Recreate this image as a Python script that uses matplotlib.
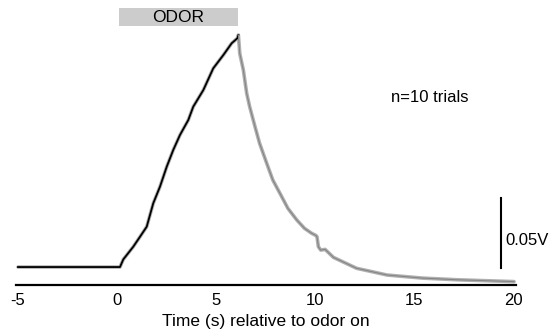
import numpy as np
import matplotlib
matplotlib.use("Agg")
import matplotlib.pyplot as plt
from matplotlib.patches import Rectangle

plt.rcParams['font.family'] = ['Liberation Sans', 'DejaVu Sans']

# mean trace (time in s relative to odor onset, signal in V)
t_rise = [-5.0, -3.0, -1.0, 0.15, 0.32, 0.82, 1.16, 1.50, 1.83, 2.17, 2.51,
          2.84, 3.18, 3.60, 3.85, 4.36, 4.86, 5.37, 5.79, 6.08, 6.13]
v_rise = [0.0, 0.0, 0.0, 0.0, 0.0055, 0.0145, 0.0216, 0.0288, 0.0455, 0.0574,
          0.0716, 0.0836, 0.0943, 0.105, 0.1145, 0.1264, 0.1419, 0.1514, 0.1598,
          0.1634, 0.1657]
t_decay = [6.13, 6.2, 6.38, 6.55, 6.7, 6.97, 7.2, 7.56, 7.87, 8.23, 8.63, 9.08,
           9.47, 9.83, 10.05, 10.1, 10.17, 10.29, 10.51, 10.93, 12.1, 13.64,
           15.43, 17.2, 20.05]
v_decay = [0.1657, 0.1525, 0.1407, 0.124, 0.1145, 0.1002, 0.0884, 0.0741, 0.0621,
           0.0526, 0.0419, 0.0336, 0.0276, 0.0241, 0.0225, 0.0216, 0.0145, 0.0121,
           0.0126, 0.0069, -0.0009, -0.0057, -0.0079, -0.0091, -0.0104]

odor_on, odor_off = 0.12, 6.1
xticks = [-5, 0, 5, 10, 15, 20]
scale_v = 0.05
n_trials = 10

fig = plt.figure(figsize=(5.51, 3.33), dpi=100)
ax = fig.add_axes([0.0287, 0.144, 0.9078, 0.856])

# trials envelope (gray) with mean on top
t_all = t_rise + t_decay[1:]
v_all = v_rise + v_decay[1:]
ax.plot(t_all, v_all, color='#b0b0b0', lw=2.6, solid_joinstyle='round',
        solid_capstyle='round', zorder=2)
ax.plot(t_rise, v_rise, color='black', lw=1.3, zorder=3)
ax.plot(t_decay, v_decay, color='#858585', lw=0.8, zorder=3)

ax.set_xlim(-5.11, 20.15)
ax.set_ylim(-0.01286, 0.1907)

# odor bar
ax.add_patch(Rectangle((odor_on, 0.1721), odor_off - odor_on, 0.0127,
                       facecolor='#cccccc', edgecolor='none', zorder=1))
ax.text((odor_on + odor_off) / 2, 0.1785, 'ODOR', ha='center', va='center',
        fontsize=12.5)

# scale bar
ax.plot([19.41, 19.41], [-0.0007, -0.0007 + scale_v], color='black', lw=1.5)
ax.text(19.6, 0.0193, '%.2fV' % scale_v, ha='left', va='center', fontsize=12)

ax.text(13.85, 0.121, 'n=%d trials' % n_trials, ha='left', va='center',
        fontsize=12)

for s in ['top', 'right', 'left']:
    ax.spines[s].set_visible(False)
ax.spines['bottom'].set_linewidth(1.6)
ax.set_yticks([])
ax.set_xticks(xticks)
ax.set_xticklabels([str(x) for x in xticks])
ax.tick_params(axis='x', length=0, pad=6, labelsize=12)
ax.set_xlabel('Time (s) relative to odor on', fontsize=12.5, labelpad=4)

fig.savefig('out.png', dpi=100)
